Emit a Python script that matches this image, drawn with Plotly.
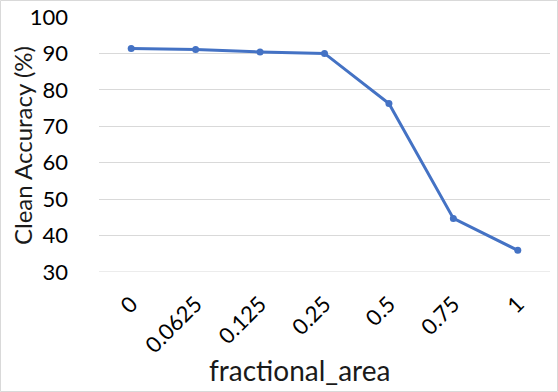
import plotly.graph_objects as go

# Data
fractional_area = ["0", "0.0625", "0.125", "0.25", "0.5", "0.75", "1"]
clean_accuracy = [91.35, 91.1, 90.4, 90.0, 76.25, 44.7, 35.95]

W, H = 558, 392
ML, MR, MT, MB = 99, 8, 17, 120
PW, PH = W - ML - MR, H - MT - MB

font_family = "Lato, 'Open Sans', sans-serif"

fig = go.Figure()

fig.add_trace(go.Scatter(
    x=fractional_area,
    y=clean_accuracy,
    mode='lines+markers',
    line=dict(color='#4472C4', width=3),
    marker=dict(color='#4472C4', size=7),
    showlegend=False
))

fig.update_layout(
    width=W,
    height=H,
    margin=dict(l=ML, r=MR, t=MT, b=MB, pad=0, autoexpand=False),
    paper_bgcolor='white',
    plot_bgcolor='white',
    font=dict(family=font_family, size=22, color='black'),
    xaxis=dict(
        type='category',
        range=[-0.5, len(fractional_area) - 0.5],
        tickangle=-45,
        showgrid=False,
        showline=False,
        ticks='',
        ticklabelstandoff=14,
        tickfont=dict(size=22, color='black'),
        zeroline=False,
        automargin=False,
    ),
    yaxis=dict(
        range=[30, 100],
        dtick=10,
        tick0=30,
        showgrid=True,
        gridcolor='#D9D9D9',
        gridwidth=1,
        showline=False,
        zeroline=False,
        ticks='',
        ticklabelstandoff=30,
        tickfont=dict(size=22, color='black'),
        automargin=False,
    ),
    annotations=[
        dict(
            text='fractional_area',
            xref='paper', yref='paper',
            x=(299 - ML) / PW, y=(H - MB - 370) / PH,
            xanchor='center', yanchor='middle',
            showarrow=False,
            font=dict(size=28, color='#1a1a1a'),
        ),
        dict(
            text='Clean Accuracy (%)',
            xref='paper', yref='paper',
            x=(22 - ML) / PW, y=(H - MB - 146) / PH,
            xanchor='center', yanchor='middle',
            textangle=-90,
            showarrow=False,
            font=dict(size=24, color='#1a1a1a'),
        ),
    ],
    shapes=[
        dict(
            type='rect',
            xref='paper', yref='paper',
            x0=(0.5 - ML) / PW, x1=(W - 0.5 - ML) / PW,
            y0=(H - MB - (H - 0.5)) / PH, y1=(H - MB - 0.5) / PH,
            line=dict(color='#D9D9D9', width=1),
            layer='below',
        ),
        dict(
            type='line',
            xref='paper', yref='y',
            x0=0, x1=1, y0=30, y1=30,
            line=dict(color='#D9D9D9', width=1),
            layer='below',
        ),
    ],
)

fig.write_html("out.html", config={'displayModeBar': False},
               post_script="document.body.style.margin='0';")
